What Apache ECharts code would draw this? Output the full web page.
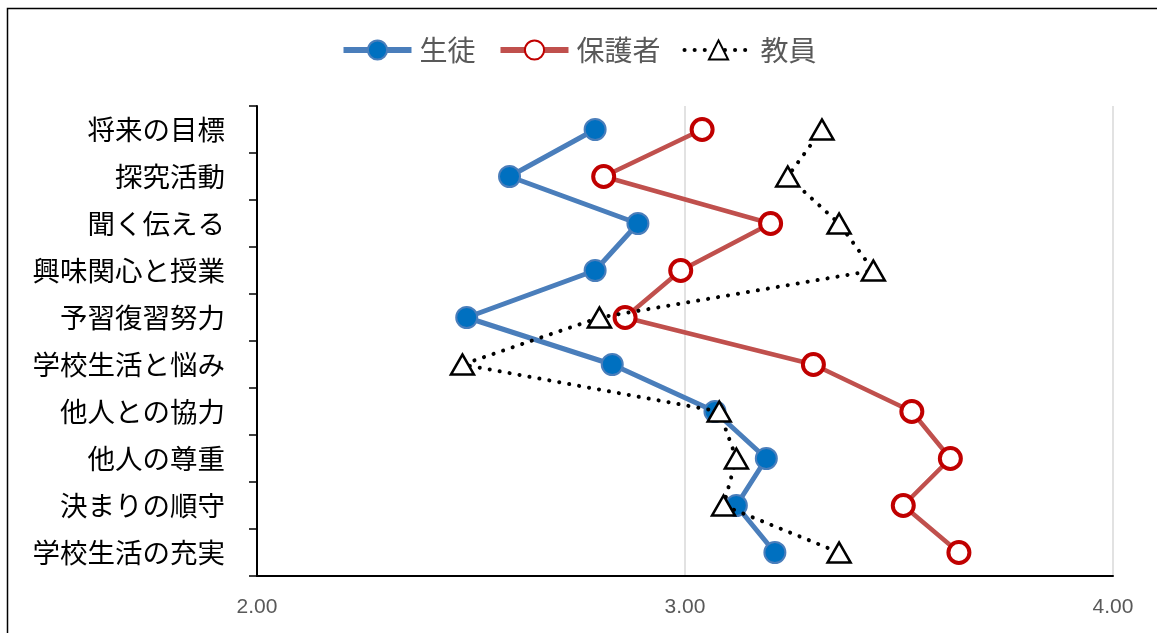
<!DOCTYPE html>
<html><head><meta charset="utf-8">
<script src="https://cdn.jsdelivr.net/npm/echarts@6/dist/echarts.min.js"></script>
<style>html,body{margin:0;padding:0;background:#fff}#c{width:1157px;height:633px}</style>
</head><body><div id="c"></div>
<script>
const categories = ['将来の目標','探究活動','聞く伝える','興味関心と授業','予習復習努力','学校生活と悩み','他人との協力','他人の尊重','決まりの順守','学校生活の充実'];
const seriesNames = ['生徒','保護者','教員'];
const students = [2.79,2.59,2.89,2.79,2.49,2.83,3.07,3.19,3.12,3.21];
const parents  = [3.04,2.81,3.20,2.99,2.86,3.30,3.53,3.62,3.51,3.64];
const teachers = [3.32,3.24,3.36,3.44,2.80,2.48,3.08,3.12,3.09,3.36];
const xTicks = [2,3,4];

const FONT = '"Noto Sans CJK JP", "Noto Sans", sans-serif';
const chart = echarts.init(document.getElementById('c'), null, {renderer:'canvas'});
chart.setOption({
  animation:false,
  backgroundColor:'#fff',
  graphic:[{type:'rect', shape:{x:7.5,y:8.5,width:1160,height:640}, style:{fill:null, stroke:'#000', lineWidth:1.5}, silent:true}],
  legend:{
    top:31, left:'center', itemWidth:68, itemHeight:24, itemGap:22,
    textStyle:{fontFamily:FONT, fontSize:28, color:'#595959', padding:[0,0,0,3]},
    data:[
      {name:seriesNames[0], lineStyle:{width:6}},
      {name:seriesNames[1], lineStyle:{width:6}},
      {name:seriesNames[2], lineStyle:{width:4}}
    ]
  },
  grid:{left:257, right:44, top:106, bottom:57, containLabel:false},
  xAxis:{
    type:'value', min:xTicks[0], max:xTicks[xTicks.length-1], interval:1,
    axisLine:{show:true, onZero:false, lineStyle:{color:'#000', width:2}},
    axisTick:{show:false},
    splitLine:{show:true, lineStyle:{color:'#d9d9d9', width:1.5}},
    axisLabel:{fontFamily:'"Liberation Sans", sans-serif', fontSize:21, color:'#595959', margin:21, formatter:v=>v.toFixed(2)}
  },
  yAxis:{
    type:'category', data:categories, inverse:true, boundaryGap:true,
    axisLine:{show:true, lineStyle:{color:'#000', width:2}},
    axisTick:{show:true, length:8, inside:false, lineStyle:{color:'#000', width:1.5}},
    axisLabel:{fontFamily:FONT, fontSize:27.5, color:'#000', margin:32}
  },
  series:[
    {name:seriesNames[0], type:'line', data:students, symbol:'circle', symbolSize:21,
     lineStyle:{color:'#4a7ebb', width:5}, itemStyle:{color:'#0070C0', borderColor:'#4a7ebb', borderWidth:2}, z:2},
    {name:seriesNames[1], type:'line', data:parents, symbol:'circle', symbolSize:21,
     lineStyle:{color:'#c0504d', width:4.5}, itemStyle:{color:'#fff', borderColor:'#c00000', borderWidth:4}, z:3},
    {name:seriesNames[2], type:'line', data:teachers, symbol:'triangle', symbolSize:[23,20],
     lineStyle:{color:'#000', width:4, type:[0.1,10], cap:'round'}, itemStyle:{color:'#fff', borderColor:'#000', borderWidth:2.5}, z:4}
  ]
});
</script></body></html>
